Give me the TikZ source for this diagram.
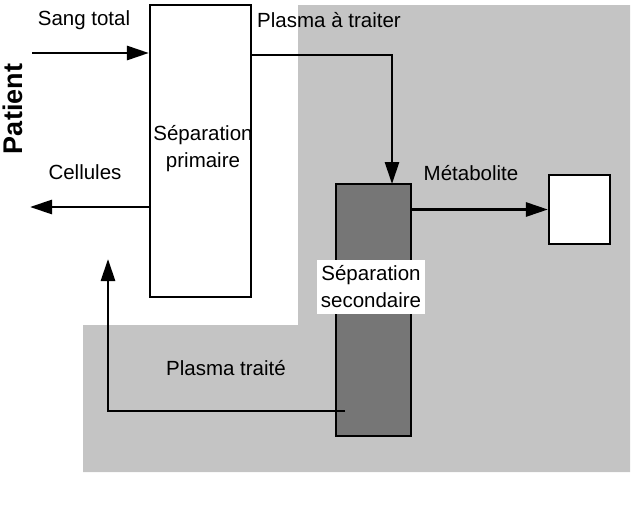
\documentclass[tikz,border=0pt]{standalone}
\usepackage{fontspec}
\setmainfont{Liberation Sans}
\usetikzlibrary{arrows.meta}
\definecolor{bg_gray}{RGB}{196,196,196}
\definecolor{box_gray}{RGB}{118,118,118}

\begin{document}
\begin{tikzpicture}[x=1pt, y=-1pt,
    flow/.style={-{Triangle[length=22pt, width=14pt]}, line width=2.8pt},
    box_style/.style={draw, line width=2.2pt, inner sep=0pt},
    label_style/.style={font=\fontsize{20.5}{27}\selectfont, inner sep=1pt, align=center}
]
    \useasboundingbox (0,0) rectangle (634,506);

    % Background zone
    \fill[bg_gray] (298,5) -- (630,5) -- (630,472) -- (83,472) -- (83,325) -- (298,325) -- cycle;

    % Boxes
    \node (prim) at (200.5,151) [box_style, fill=white, minimum width=101pt, minimum height=292pt] {};
    \node (sec) at (373.5,310) [box_style, fill=box_gray, minimum width=75pt, minimum height=252pt] {};
    \node (prod) at (579.5,209.5) [box_style, fill=white, minimum width=61pt, minimum height=69pt] {};

    % Box labels
    \node (prim_label) at (203,149) [label_style] {Séparation\\primaire};
    \node (sec_label) at (371,287) [label_style, fill=white, inner xsep=4pt, inner ysep=6pt] {Séparation\\secondaire};

    % Free ends of the connectors
    \coordinate (sang_in) at (32,53);
    \coordinate (plasma_out) at (251,55);
    \coordinate (sec_in) at (392,184);
    \coordinate (cell_out) at (30,207);
    \coordinate (ret_start) at (345,411);
    \coordinate (ret_end) at (108,259);

    % Flows
    \draw[flow] (sang_in) -- (sang_in -| prim.west);
    \draw[flow] (plasma_out) -| (sec_in);
    \draw[flow] (sec.east |- prod.west) -- (prod.west);
    \draw[flow] (cell_out -| prim.west) -- (cell_out);
    \draw[flow] (ret_start) -| (ret_end);

    % Flow labels
    \node (sang_label) at (84,20) [label_style] {Sang total};
    \node (plasma_label) at (329,20) [label_style] {Plasma à traiter};
    \node (cell_label) at (85,172) [label_style] {Cellules};
    \node (meta_label) at (471,173) [label_style] {Métabolite};
    \node (ret_label) at (226,368) [label_style] {Plasma traité};

    % Patient side
    \node (patient) at (13,109) [rotate=90, font=\fontsize{27}{30}\selectfont\bfseries, inner sep=0pt] {Patient};

\end{tikzpicture}
\end{document}
